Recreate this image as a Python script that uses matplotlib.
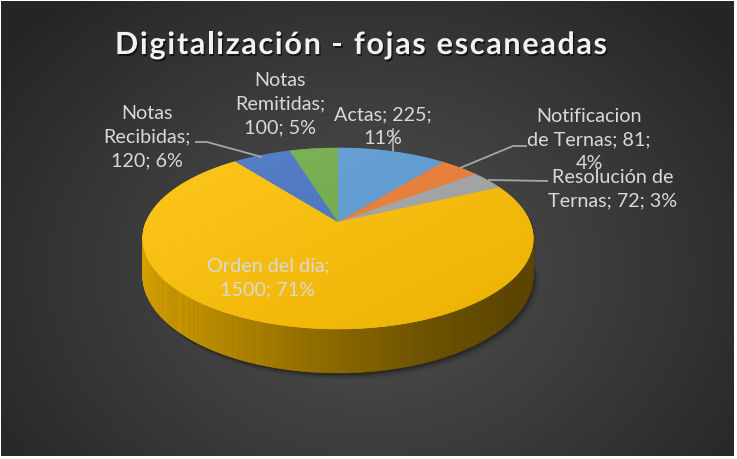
import textwrap
import numpy as np
import matplotlib
matplotlib.use('Agg')
import matplotlib.pyplot as plt
from matplotlib.patches import Polygon
from matplotlib.colors import to_rgb
import matplotlib.patheffects as pe

# datos
categorias = ['Actas', 'Notificacion de Ternas', 'Resolución de Ternas',
              'Orden del día', 'Notas Recibidas', 'Notas Remitidas']
fojas = [225, 81, 72, 1500, 120, 100]
colores = ['#5B9BD5', '#ED7D31', '#A5A5A5', '#FFC000', '#4472C4', '#70AD47']
titulo = 'Digitalización - fojas escaneadas'

W, H = 737, 459
fig = plt.figure(figsize=(W / 100, H / 100), dpi=100)
fig.patch.set_facecolor('white')
ax = fig.add_axes([0, 0, 1, 1])
ax.axis('off')

# fondo con degradado radial
yy, xx = np.mgrid[1:456, 1:734]
t = np.clip(np.hypot(xx - 370, (yy - 270) * 1.25) / 460, 0, 1) ** 1.1
c0, c1 = np.array(to_rgb('#505050')), np.array(to_rgb('#252525'))
fondo = c0 * (1 - t[..., None]) + c1 * t[..., None]
ax.imshow(fondo, extent=[1, 734, 456, 1], zorder=0, interpolation='bilinear')

# geometria de la torta 3D (perspectiva)
cx, cy, rx, ry, k = 338, 222, 192, 87.5, 0.182
prof = 36


def proj(th, r=1.0):
    u = r * np.cos(th)
    v = -r * np.sin(th)
    w = 1 / (1 - k * v)
    return cx + rx * u * w, cy + ry * v * w, w


total = sum(fojas)
fr = np.array(fojas) / total
bordes = 90 - 360 * np.concatenate([[0], np.cumsum(fr)])

# sombra
th = np.radians(np.linspace(0, 360, 361))
xs, ys, ws = proj(th)
yb = np.where(np.sin(th) < 0, ys + prof * ws, ys)
for d, a in [(7, 0.06), (5, 0.08), (3.5, 0.12), (2, 0.18)]:
    ax.add_patch(Polygon(np.c_[xs + d * 0.8, yb + d], closed=True, fc='black',
                         ec='none', alpha=a, zorder=1))


def slice_de(ang):
    a = (90 - ang) % 360
    return int(np.searchsorted(np.cumsum(fr) * 360, a, side='right'))


# pared lateral
xl, xr = cx - 195, cx + 195
for a in np.arange(180, 360, 0.5):
    t1, t2 = np.radians(a), np.radians(a + 0.6)
    x1, y1, w1 = proj(t1)
    x2, y2, w2 = proj(t2)
    i = min(slice_de(a + 0.25), len(fojas) - 1)
    tt = np.clip(((x1 + x2) / 2 - xl) / (xr - xl), 0, 1)
    f = np.interp(tt, [0, 0.25, 0.5, 0.75, 1], [0.84, 0.68, 0.54, 0.42, 0.36])
    c = np.array(to_rgb(colores[i])) * f
    ax.add_patch(Polygon([(x1, y1), (x2, y2), (x2, y2 + prof * w2), (x1, y1 + prof * w1)],
                         closed=True, fc=c, ec=c, lw=0.3, zorder=2))

# caras superiores con degradado
gy, gx = np.mgrid[140:350, 135:545]
tg = np.clip(((gx - 135) / 410 + (gy - 140) / 210) / 2, 0, 1)[..., None]
for i in range(len(fojas)):
    a = np.radians(np.linspace(bordes[i], bordes[i + 1], 120))
    px, py, _ = proj(a)
    verts = np.r_[[[cx, cy]], np.c_[px, py]]
    poly = Polygon(verts, closed=True, fc=colores[i], ec=colores[i], lw=0.4, zorder=3)
    ax.add_patch(poly)
    base = np.array(to_rgb(colores[i]))
    light = base + (1 - base) * 0.12
    dark = base * 0.92
    img = light * (1 - tg) + dark * tg
    im = ax.imshow(img, extent=[135, 545, 350, 140], zorder=3.1, interpolation='bilinear')
    im.set_clip_path(poly)

# lineas guia
guias = [
    [(393, 128), (393, 151)],
    [(527, 146), (513, 146), (460, 168)],
    [(548, 181), (488, 180)],
    [(195, 142), (207, 142), (262, 157)],
]
for g in guias:
    g = np.array(g)
    ax.plot(g[:, 0], g[:, 1], color='#A6A6A6', lw=1.3, zorder=4, solid_capstyle='butt')

# etiquetas
pos = [(383, 127), (589, 140), (613, 189), (268, 278), (147, 137), (280, 104)]
anchos = [11, 14, 14, 14, 10, 10]
for i in range(len(fojas)):
    txt = f'{categorias[i]}; {fojas[i]}; {round(fr[i] * 100):.0f}%'
    txt = '\n'.join(textwrap.wrap(txt, anchos[i]))
    ax.text(pos[i][0], pos[i][1], txt, ha='center', va='center', multialignment='center',
            color='#D9D9D9', fontsize=14.2, family='Lato', linespacing=1.48, zorder=5)

# titulo con espaciado entre letras
ax.set_xlim(0, W)
ax.set_ylim(H, 0)
r = fig.canvas.get_renderer()
fp = dict(family='Lato', weight='bold', fontsize=22)


def ancho(s):
    tx = ax.text(0, 0, s + '|', **fp)
    w = tx.get_window_extent(r).width
    tx.remove()
    return w


barra = ancho('')
natural = ancho(titulo) - barra
ancho_obj = 492
track = (ancho_obj - natural) / (len(titulo) - 1)
x0 = 361 - ancho_obj / 2
for j, ch in enumerate(titulo):
    xj = x0 + ancho(titulo[:j]) - barra + j * track
    ax.text(xj, 54, ch, ha='left', va='baseline', color='#F2F2F2', zorder=6,
            path_effects=[pe.withSimplePatchShadow(offset=(1, -1.5), shadow_rgbFace='black', alpha=0.6)],
            **fp)

ax.set_xlim(0, W)
ax.set_ylim(H, 0)
ax.set_aspect('auto')
fig.savefig('out.png', dpi=100, facecolor='white')
